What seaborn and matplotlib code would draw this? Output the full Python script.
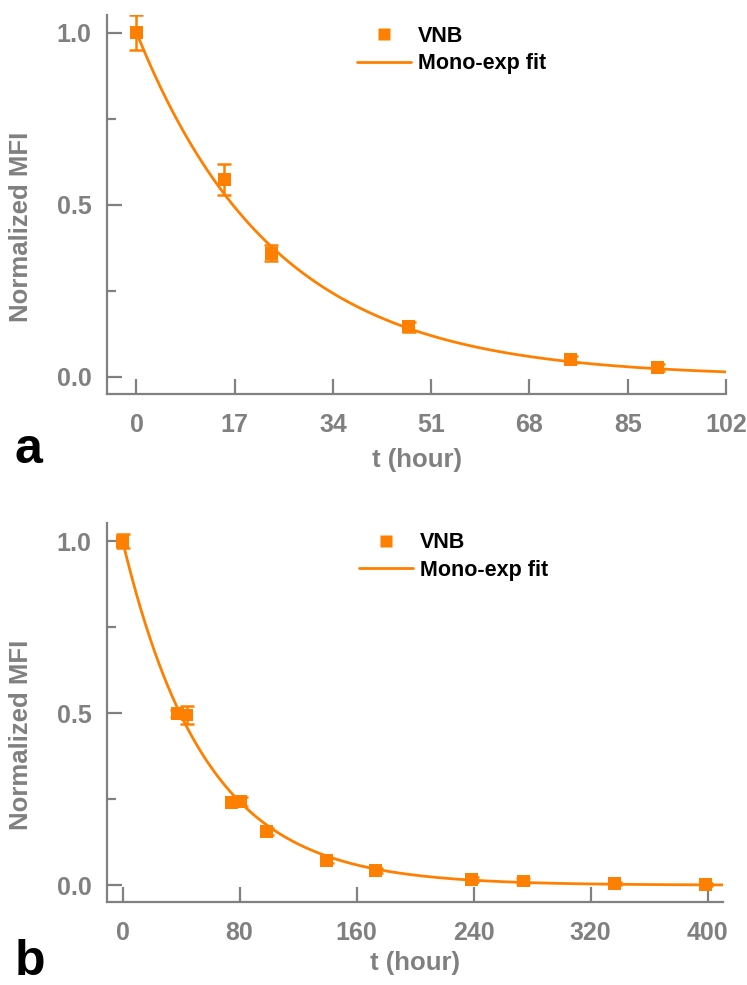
import numpy as np
import pandas as pd
import matplotlib
matplotlib.use("Agg")
import matplotlib.pyplot as plt
import seaborn as sns
from matplotlib.lines import Line2D
from matplotlib.ticker import FixedLocator

# ---------------- data ----------------
t_a = [0, 15.2, 23.3, 47.1, 75.1, 90.2]
norm_a = [1.0, 0.572, 0.359, 0.145, 0.051, 0.028]
err_a = [0.05, 0.045, 0.024, 0.015, 0.010, 0.010]
tau_a = 24.0
amp_a = 1.0
xticks_a = [0, 17, 34, 51, 68, 85, 102]

t_b = [0, 37.5, 44, 74.5, 80.7, 98.5, 139.5, 173, 238.6, 274, 336.6, 398.8]
norm_b = [1.0, 0.5, 0.495, 0.24, 0.243, 0.157, 0.072, 0.043, 0.017, 0.012, 0.005, 0.002]
err_b = [0.02, 0.01, 0.027, 0.01, 0.012, 0.01, 0.008, 0.008, 0.008, 0.008, 0.005, 0.004]
tau_b = 56.5
amp_b = 1.0
xticks_b = [0, 80, 160, 240, 320, 400]

yticks = [0.0, 0.5, 1.0]
yminor = [0.25, 0.75]
series_label = "VNB"
fit_label = "Mono-exp fit"
xlabel = "t (hour)"
ylabel = "Normalized MFI"

# ---------------- style ----------------
sns.set_theme(style="white")
plt.rcParams['font.family'] = ['Liberation Sans', 'DejaVu Sans']
plt.rcParams['font.weight'] = 'bold'

ORANGE = "#FF8000"
GRAY = "#808080"
W, H = 747, 985

fig = plt.figure(figsize=(W / 100, H / 100), dpi=100)


def px_axes(left, top, right, bottom):
    return fig.add_axes([left / W, 1 - bottom / H, (right - left) / W, (bottom - top) / H])


def draw(ax, t, y, e, tau, amp, xlim, ylim, xticks, leg_xy, xlab_y, letter, letter_base):
    df = pd.DataFrame({"t": t, "y": y})
    tt = np.linspace(0, xlim[1], 400)
    fit = pd.DataFrame({"t": tt, "y": amp * np.exp(-tt / tau)})
    sns.lineplot(data=fit, x="t", y="y", ax=ax, color=ORANGE, lw=2.0, zorder=2)
    ax.errorbar(t, y, yerr=e, fmt="none", ecolor=ORANGE, elinewidth=1.8,
                capsize=5, capthick=1.8, zorder=3)
    sns.scatterplot(data=df, x="t", y="y", ax=ax, marker="s", s=85, color=ORANGE,
                    edgecolor="none", linewidth=0, zorder=4)
    ax.set_xlim(*xlim)
    ax.set_ylim(*ylim)
    ax.set_xticks(xticks)
    ax.set_xticklabels([str(v) for v in xticks])
    ax.set_yticks(yticks)
    ax.set_yticklabels([f"{v:.1f}" for v in yticks])
    ax.yaxis.set_minor_locator(FixedLocator(yminor))
    for s in ["top", "right"]:
        ax.spines[s].set_visible(False)
    for s in ["left", "bottom"]:
        ax.spines[s].set_color(GRAY)
        ax.spines[s].set_linewidth(1.6)
    ax.tick_params(axis="both", which="major", direction="in", length=11, width=1.6,
                   color=GRAY, labelcolor=GRAY, labelsize=18)
    ax.tick_params(axis="x", which="major", pad=13.5, bottom=True, left=False)
    ax.tick_params(axis="y", which="major", pad=11, left=True)
    ax.tick_params(axis="y", which="minor", direction="in", length=6.5, width=1.6,
                   color=GRAY, left=True)
    for lab in ax.get_xticklabels() + ax.get_yticklabels():
        lab.set_fontweight("bold")
    ax.set_xlabel(xlabel, fontsize=18.5, fontweight="bold", color=GRAY)
    ax.xaxis.set_label_coords(0.5, xlab_y)
    ax.set_ylabel(ylabel, fontsize=18.5, fontweight="bold", color=GRAY)
    ax.yaxis.set_label_coords(-0.12, 0.44)
    handles = [
        Line2D([], [], ls="none", marker="s", ms=8.5, color=ORANGE, mec="none"),
        Line2D([], [], color=ORANGE, lw=2.0),
    ]
    leg = ax.legend(handles, [series_label, fit_label], loc="upper left",
                    bbox_to_anchor=leg_xy, frameon=False, borderpad=0, borderaxespad=0,
                    handlelength=2.5, handletextpad=0.33, labelspacing=0.3,
                    prop={"weight": "bold", "size": 15.5})
    for txt in leg.get_texts():
        txt.set_color("black")
    fig.text(15 / W, 1 - letter_base / H, letter, fontsize=36, fontweight="bold",
             color="black", ha="left", va="baseline")


ax_a = px_axes(107, 15, 726, 394)
draw(ax_a, t_a, norm_a, err_a, tau_a, amp_a, (-5.1, 102), (-0.05, 1.051), xticks_a,
     (0.404, 0.972), -0.143, "a", 463)

ax_b = px_axes(107, 523, 723, 902)
draw(ax_b, t_b, norm_b, err_b, tau_b, amp_b, (-10.7, 410.6), (-0.049, 1.053), xticks_b,
     (0.409, 0.975), -0.130, "b", 975)

fig.savefig("out.png", dpi=100)
